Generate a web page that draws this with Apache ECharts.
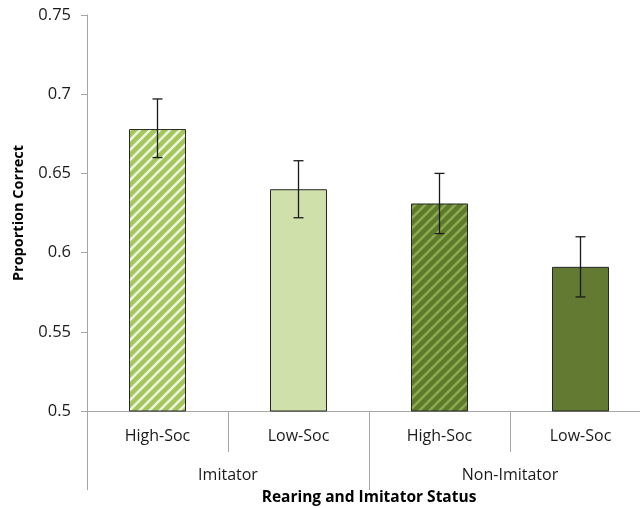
<!DOCTYPE html>
<html>
<head>
<meta charset="utf-8">
<script src="https://cdn.jsdelivr.net/npm/echarts@6/dist/echarts.min.js"></script>
<style>
html,body{margin:0;padding:0;background:#fff;}
#main{width:640px;height:508px;}
</style>
</head>
<body>
<div id="main"></div>
<script>
var groups = ['Imitator', 'Non-Imitator'];
var categories = ['High-Soc', 'Low-Soc', 'High-Soc', 'Low-Soc'];
var means = [0.678, 0.640, 0.631, 0.591];
var errLow = [0.660, 0.622, 0.612, 0.572];
var errHigh = [0.697, 0.658, 0.650, 0.610];

var yTicks = [0.5, 0.55, 0.6, 0.65, 0.7, 0.75];

//斜线纹理
function stripes(base, line){
	var c = document.createElement('canvas');
	c.width = 10; c.height = 10;
	var ctx = c.getContext('2d');
	ctx.fillStyle = base;
	ctx.fillRect(0, 0, 10, 10);
	ctx.strokeStyle = line;
	ctx.lineWidth = 2.6;
	ctx.beginPath();
	ctx.moveTo(-5, 5); ctx.lineTo(5, -5);
	ctx.moveTo(0, 10); ctx.lineTo(10, 0);
	ctx.moveTo(5, 15); ctx.lineTo(15, 5);
	ctx.stroke();
	return {image: c, repeat: 'repeat'};
}

var fills = [
	stripes('#a3c75a', '#eef5e0'),
	'#d0e0aa',
	stripes('#5f7a2c', '#8aab4e'),
	'#627a31'
];

var font = 'Open Sans';
var chart = echarts.init(document.getElementById('main'));

var option = {
	animation: false,
	grid: {left: 87, right: -11, top: 15, bottom: 97, containLabel: false, outerBoundsMode: 'none'},
	xAxis: [{
		type: 'category',
		data: categories,
		axisLine: {lineStyle: {color: '#a6a6a6', width: 1}},
		axisTick: {show: true, length: 41, interval: 0, lineStyle: {color: '#a6a6a6'}},
		axisLabel: {interval: 0, margin: 17, color: '#1a1a1a', fontFamily: font, fontSize: 16}
	}, {
		type: 'category',
		data: groups,
		position: 'bottom',
		axisLine: {show: false},
		axisTick: {show: true, length: 79, interval: 0, lineStyle: {color: '#a6a6a6'}},
		axisLabel: {interval: 0, margin: 56, color: '#1a1a1a', fontFamily: font, fontSize: 16},
		name: 'Rearing and Imitator Status',
		nameLocation: 'middle',
		nameGap: 79,
		nameTextStyle: {fontFamily: font, fontSize: 15.5, fontWeight: 'bold', color: '#000'}
	}],
	yAxis: {
		type: 'value',
		min: yTicks[0],
		max: yTicks[yTicks.length - 1],
		interval: 0.05,
		name: 'Proportion Correct',
		nameLocation: 'middle',
		nameGap: 61,
		nameTextStyle: {fontFamily: font, fontSize: 14.5, fontWeight: 'bold', color: '#000'},
		axisLine: {show: true, lineStyle: {color: '#a6a6a6'}},
		axisTick: {show: true, length: 6, lineStyle: {color: '#a6a6a6'}},
		splitLine: {show: false},
		axisLabel: {
			margin: 16, color: '#1a1a1a', fontFamily: font, fontSize: 16.5,
			formatter: function(v){ return String(parseFloat(v.toFixed(2))); }
		}
	},
	series: [{
		type: 'bar',
		barWidth: 57,
		data: means.map(function(v, i){
			return {value: v, itemStyle: {color: fills[i]}};
		}),
		itemStyle: {borderColor: '#262626', borderWidth: 1}
	}, {
		type: 'custom',
		z: 10,
		data: means.map(function(v, i){ return [i, errLow[i], errHigh[i]]; }),
		renderItem: function(params, api){
			var lo = api.coord([api.value(0), api.value(1)]);
			var hi = api.coord([api.value(0), api.value(2)]);
			var hw = 5;
			var st = {stroke: '#1a1a1a', lineWidth: 1.3};
			return {
				type: 'group',
				children: [
					{type: 'line', shape: {x1: hi[0], y1: hi[1], x2: lo[0], y2: lo[1]}, style: st},
					{type: 'line', shape: {x1: hi[0] - hw, y1: hi[1], x2: hi[0] + hw, y2: hi[1]}, style: st},
					{type: 'line', shape: {x1: lo[0] - hw, y1: lo[1], x2: lo[0] + hw, y2: lo[1]}, style: st}
				]
			};
		}
	}]
};
chart.setOption(option);
</script>
</body>
</html>
